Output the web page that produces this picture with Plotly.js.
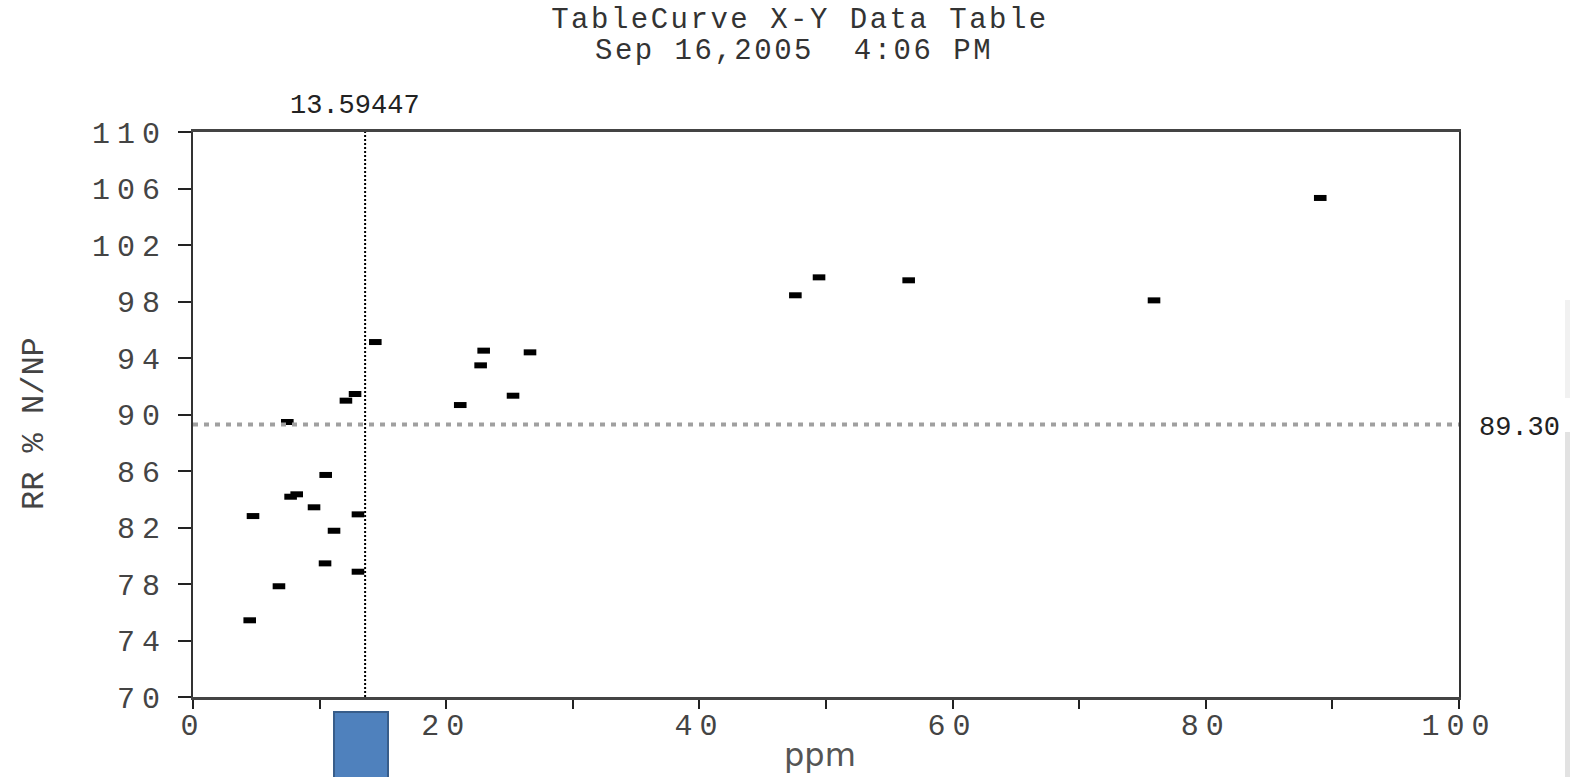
<!DOCTYPE html>
<html>
<head>
<meta charset="utf-8">
<script src="https://cdn.plot.ly/plotly-3.0.1.min.js"></script>
<style>
  html, body { margin: 0; padding: 0; background: #fff; }
  #chart { width: 1570px; height: 777px; }
  .ytick text, .xtick text { letter-spacing: 7px; }
  .gtitle { letter-spacing: 2.5px; }
  .annotation[data-index="0"] text { letter-spacing: 2.5px; }
</style>
</head>
<body>
<div id="chart"></div>
<script>
// Data
const ppm = [4.48, 4.74, 6.79, 7.45, 7.71, 8.19, 9.56, 10.43, 10.48, 11.14, 12.08, 12.80, 13.03, 13.03, 14.40,
             21.11, 22.72, 22.96, 25.28, 26.62, 47.58, 49.45, 56.53, 75.91, 89.04];
const rr  = [75.43, 82.81, 77.84, 89.47, 84.18, 84.35, 83.43, 79.46, 85.72, 81.77, 90.98, 91.45, 82.93, 78.87, 95.13,
             90.67, 93.48, 94.52, 91.33, 94.40, 98.44, 99.71, 99.50, 98.08, 105.33];
const xCut = 13.59447;
const yCut = 89.30;
const xTickVals = [0, 10, 20, 30, 40, 50, 60, 70, 80, 90, 100];
const xTickText = ["0", "", "20", "", "40", "", "60", "", "80", "", "100"];
const yTickVals = [70, 74, 78, 82, 86, 90, 94, 98, 102, 106, 110];
const titleLine1 = "TableCurve X-Y Data Table";
const titleLine2 = "Sep 16,2005  4:06 PM";
const xLabel = "ppm";
const yLabel = "RR % N/NP";

const mono = "Liberation Mono, DejaVu Sans Mono, monospace";

const traces = [{
  type: "scatter",
  mode: "markers",
  x: ppm,
  y: rr,
  marker: { symbol: "line-ew", size: 9, color: "#000", line: { color: "#000", width: 6 } },
  hoverinfo: "x+y",
  showlegend: false
}];

const layout = {
  width: 1570, height: 777,
  margin: { l: 193, r: 111, t: 132, b: 80 },
  paper_bgcolor: "#fff",
  plot_bgcolor: "#fff",
  showlegend: false,
  title: {
    text: titleLine1,
    font: { family: mono, size: 29, color: "#333" },
    x: 800 / 1570, xanchor: "center", xref: "container",
    y: 1 - 18 / 777, yanchor: "middle", yref: "container"
  },
  xaxis: {
    range: [0, 100],
    tickmode: "array", tickvals: xTickVals, ticktext: xTickText,
    ticks: "outside", ticklen: 9, tickwidth: 2, tickcolor: "#222",
    showline: true, linecolor: "#444", linewidth: 3, mirror: true,
    showgrid: false, zeroline: false,
    tickfont: { family: mono, size: 30, color: "#444" },
    ticklabelstandoff: -10
  },
  yaxis: {
    range: [70, 110],
    tickmode: "array", tickvals: yTickVals,
    ticks: "outside", ticklen: 13, tickwidth: 2, tickcolor: "#222",
    showline: true, linecolor: "#333", linewidth: 2, mirror: true,
    showgrid: false, zeroline: false,
    tickfont: { family: mono, size: 30, color: "#444" },
    ticklabelstandoff: 5
  },
  shapes: [
    { type: "line", xref: "x", yref: "paper", x0: xCut, x1: xCut, y0: 0, y1: 1,
      line: { color: "#000", width: 2, dash: "2px,2px" } },
    { type: "line", xref: "paper", yref: "y", x0: 0, x1: 1, y0: yCut, y1: yCut,
      line: { color: "#a0a0a0", width: 4, dash: "5px,6px" } },
    { type: "rect", xref: "paper", yref: "paper",
      x0: (334 - 193) / 1266, x1: (388 - 193) / 1266, y0: (697 - 790) / 565, y1: (697 - 712) / 565,
      fillcolor: "#4f81bd", line: { color: "#385d8a", width: 2 } },
    { type: "rect", xref: "paper", yref: "paper",
      x0: (1565 - 193) / 1266, x1: (1572 - 193) / 1266, y0: (697 - 790) / 565, y1: (697 - 432) / 565,
      fillcolor: "#e2e2e2", line: { width: 0 } },
    { type: "rect", xref: "paper", yref: "paper",
      x0: (1565 - 193) / 1266, x1: (1572 - 193) / 1266, y0: (697 - 398) / 565, y1: (697 - 300) / 565,
      fillcolor: "#f1f1f1", line: { width: 0 } }
  ],
  annotations: [
    { text: titleLine2, xref: "paper", yref: "paper",
      x: (794 - 193) / 1266, y: (697 - 51) / 565, xanchor: "center", yanchor: "middle",
      showarrow: false, font: { family: mono, size: 29, color: "#333" } },
    { text: xCut.toFixed(5), xref: "x", yref: "paper", x: xCut, y: (697 - 106) / 565,
      xanchor: "center", yanchor: "middle", xshift: -10,
      showarrow: false, font: { family: mono, size: 27, color: "#222" } },
    { text: yCut.toFixed(2), xref: "paper", yref: "y", x: (1477 - 193) / 1266, y: yCut,
      xanchor: "left", yanchor: "middle", yshift: -4,
      showarrow: false, font: { family: mono, size: 27, color: "#222" } },
    { text: xLabel, xref: "paper", yref: "paper", x: (820 - 193) / 1266, y: (697 - 755) / 565,
      xanchor: "center", yanchor: "middle",
      showarrow: false, font: { family: "DejaVu Sans, sans-serif", size: 32, color: "#555" } },
    { text: yLabel, xref: "paper", yref: "paper", x: (34 - 193) / 1266, y: (697 - 424) / 565,
      xanchor: "center", yanchor: "middle", textangle: -90,
      showarrow: false, font: { family: mono, size: 32, color: "#444" } }
  ]
};

Plotly.newPlot("chart", traces, layout, { displayModeBar: false, staticPlot: true });
</script>
</body>
</html>
